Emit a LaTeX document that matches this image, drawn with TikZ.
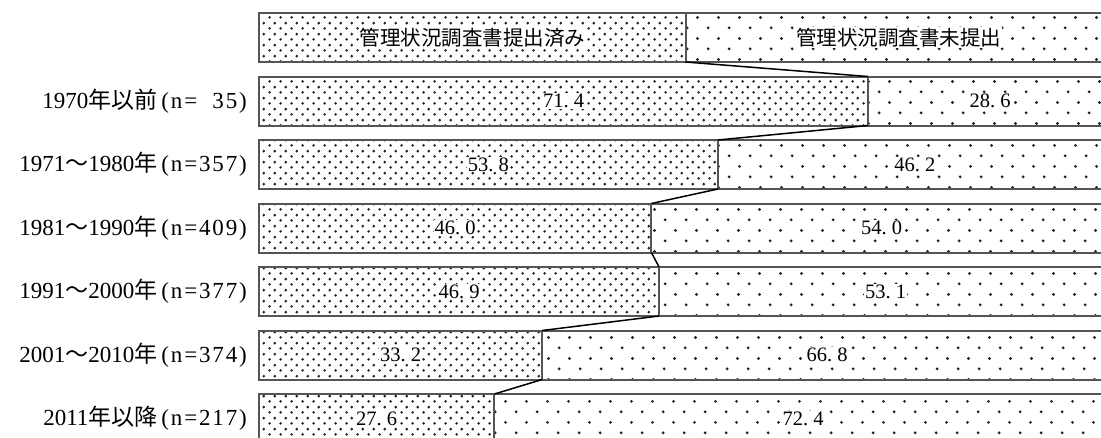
\documentclass[tikz,border=0pt]{standalone}
\usepackage{fontspec}
\setmainfont{Liberation Serif}
\newfontfamily\cjk{Noto Sans CJK JP}
\newfontfamily\lsp[LetterSpace=8]{Liberation Serif}
\usetikzlibrary{patterns}
\pgfdeclarepatternformonly{densedots}{\pgfpointorigin}{\pgfqpoint{10.67pt}{10.67pt}}{\pgfqpoint{10.67pt}{10.67pt}}{%
  \pgfpathcircle{\pgfqpoint{2.67pt}{2.67pt}}{1.45pt}%
  \pgfpathcircle{\pgfqpoint{8pt}{8pt}}{1.45pt}%
  \pgfusepath{fill}}
\pgfdeclarepatternformonly{sparsedots}{\pgfpointorigin}{\pgfqpoint{21.33pt}{21.33pt}}{\pgfqpoint{21.33pt}{21.33pt}}{%
  \pgfpathcircle{\pgfqpoint{5.33pt}{5.33pt}}{1.6pt}%
  \pgfpathcircle{\pgfqpoint{16pt}{16pt}}{1.6pt}%
  \pgfusepath{fill}}
\definecolor{bordergray}{HTML}{555555}
\definecolor{dotgray}{HTML}{222222}
\newcommand{\pd}{\makebox[0.5em][l]{.}}
\newcommand{\nn}[1]{\hspace{4pt}{\lsp(n=#1)}}
\tikzset{
  seg/.style={draw=bordergray, line width=2pt, inner sep=0pt, outer sep=0pt,
    minimum height=49pt, anchor=north west},
  leftseg/.style={seg, pattern=densedots, pattern color=dotgray},
  rightseg/.style={seg, pattern=sparsedots, pattern color=dotgray},
  val/.style={fill=white, inner sep=1pt, font=\fontsize{20.5}{20.5}\selectfont},
  rowlab/.style={anchor=east, inner sep=0pt, font=\fontsize{23}{23}\selectfont},
  link/.style={black, line width=1.5pt}
}
\begin{document}
\begin{tikzpicture}[x=1pt,y=-1pt]
\useasboundingbox (0,0) rectangle (1101,437);
\clip (0,0) rectangle (1101,437);
\def\X{259}
\def\W{853}
\foreach \i/\p in {0/50.0,1/71.4,2/53.8,3/46.0,4/46.9,5/33.2,6/27.6}{
  \pgfmathsetmacro{\yt}{13+63.5*\i}
  \pgfmathsetmacro{\lw}{\p/100*\W}
  \pgfmathsetmacro{\rw}{\W-\lw}
  \pgfmathsetmacro{\xs}{\X+\lw}
  \node[leftseg, minimum width=\lw pt] (L\i) at (\X,\yt) {};
  \node[rightseg, minimum width=\rw pt] (R\i) at (\xs,\yt) {};
}
% legend texts
\node[val] (t0l) at (L0.center) {\cjk 管理状況調査書提出済み};
\node[val] (t0r) at (R0.center) {\cjk 管理状況調査書未提出};
% values
\foreach \i/\a/\b/\c/\d in {1/71/4/28/6,2/53/8/46/2,3/46/0/54/0,4/46/9/53/1,5/33/2/66/8,6/27/6/72/4}{
  \node[val] (v\i l) at (L\i.center) {\a\pd\b};
  \node[val] (v\i r) at (R\i.center) {\c\pd\d};
}
% row labels
\node[rowlab] (lab1) at ([xshift=-12pt]L1.west) {1970{\cjk 年以前}\nn{\ \ 35}};
\node[rowlab] (lab2) at ([xshift=-12pt]L2.west) {1971{\cjk ～}1980{\cjk 年}\nn{357}};
\node[rowlab] (lab3) at ([xshift=-12pt]L3.west) {1981{\cjk ～}1990{\cjk 年}\nn{409}};
\node[rowlab] (lab4) at ([xshift=-12pt]L4.west) {1991{\cjk ～}2000{\cjk 年}\nn{377}};
\node[rowlab] (lab5) at ([xshift=-12pt]L5.west) {2001{\cjk ～}2010{\cjk 年}\nn{374}};
\node[rowlab] (lab6) at ([xshift=-12pt]L6.west) {2011{\cjk 年以降}\nn{217}};
% connectors
\foreach \i [evaluate=\i as \j using int(\i+1)] in {0,...,5}{
  \draw[link] (L\i.south east) -- (L\j.north east);
}
\end{tikzpicture}
\end{document}
